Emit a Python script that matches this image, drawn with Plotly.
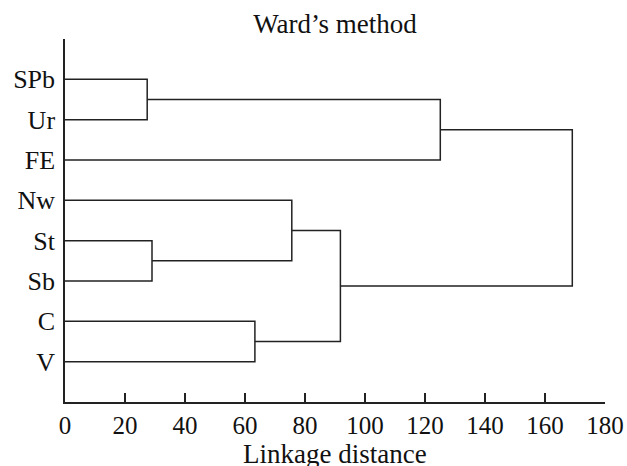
import plotly.graph_objects as go

# Leaves, top to bottom
leaves = ["SPb", "Ur", "FE", "Nw", "St", "Sb", "C", "V"]
# Merges (scipy-style indices: 0-7 leaves, 8+ merged clusters)
merge_a = [0, 4, 6, 3, 11, 8, 13]
merge_b = [1, 5, 7, 9, 10, 2, 12]
merge_height = [27.4, 29.0, 63.3, 75.6, 91.8, 125.1, 169.1]

x_ticks = [0, 20, 40, 60, 80, 100, 120, 140, 160, 180]

n = len(leaves)
pos_y = {i: float(n - i) for i in range(n)}
pos_x = {i: 0.0 for i in range(n)}
xs, ys = [], []
for k, (a, b, h) in enumerate(zip(merge_a, merge_b, merge_height)):
    cid = n + k
    xs += [pos_x[a], h, h, pos_x[b], None]
    ys += [pos_y[a], pos_y[a], pos_y[b], pos_y[b], None]
    pos_x[cid] = h
    pos_y[cid] = (pos_y[a] + pos_y[b]) / 2

family = "Liberation Serif, Times New Roman, serif"
font = dict(family=family, size=25, color="#111")
yfont = dict(family=family, size=26, color="#111")
title_font = dict(family=family, size=27, color="#111")
line_col = "#222"

W, H = 627, 466

fig = go.Figure(go.Scatter(x=xs, y=ys, mode="lines",
                           line=dict(color=line_col, width=1.5),
                           hoverinfo="skip", showlegend=False))

fig.update_layout(
    width=W, height=H,
    margin=dict(l=65, r=22, t=39, b=64),
    paper_bgcolor="white", plot_bgcolor="white",
    font=font,
    title=dict(text="Ward’s method", x=0.5, xref="paper", xanchor="center",
               y=1 - 24 / H, yanchor="middle", font=title_font),
    xaxis=dict(range=[0, 180], tickvals=x_ticks, ticks="inside", ticklen=9,
               tickwidth=1.5, tickcolor=line_col, showline=True, linecolor=line_col,
               linewidth=1.5, showgrid=False, zeroline=False, tickfont=font,
               automargin=False, ticklabelstandoff=0),
    yaxis=dict(range=[0, 9], tickvals=[pos_y[i] for i in range(n)], ticktext=leaves,
               ticks="", showline=True, linecolor=line_col, linewidth=1.5,
               showgrid=False, zeroline=False, tickfont=yfont, ticklabelstandoff=3,
               automargin=False),
    annotations=[dict(text="Linkage distance", xref="paper", yref="paper",
                      x=0.5, y=0, xanchor="center", yanchor="middle",
                      yshift=-52, showarrow=False, font=title_font)],
)

fig.write_html("out.html", config={"displayModeBar": False},
               post_script="document.body.style.margin='0';document.body.style.overflow='hidden';")
